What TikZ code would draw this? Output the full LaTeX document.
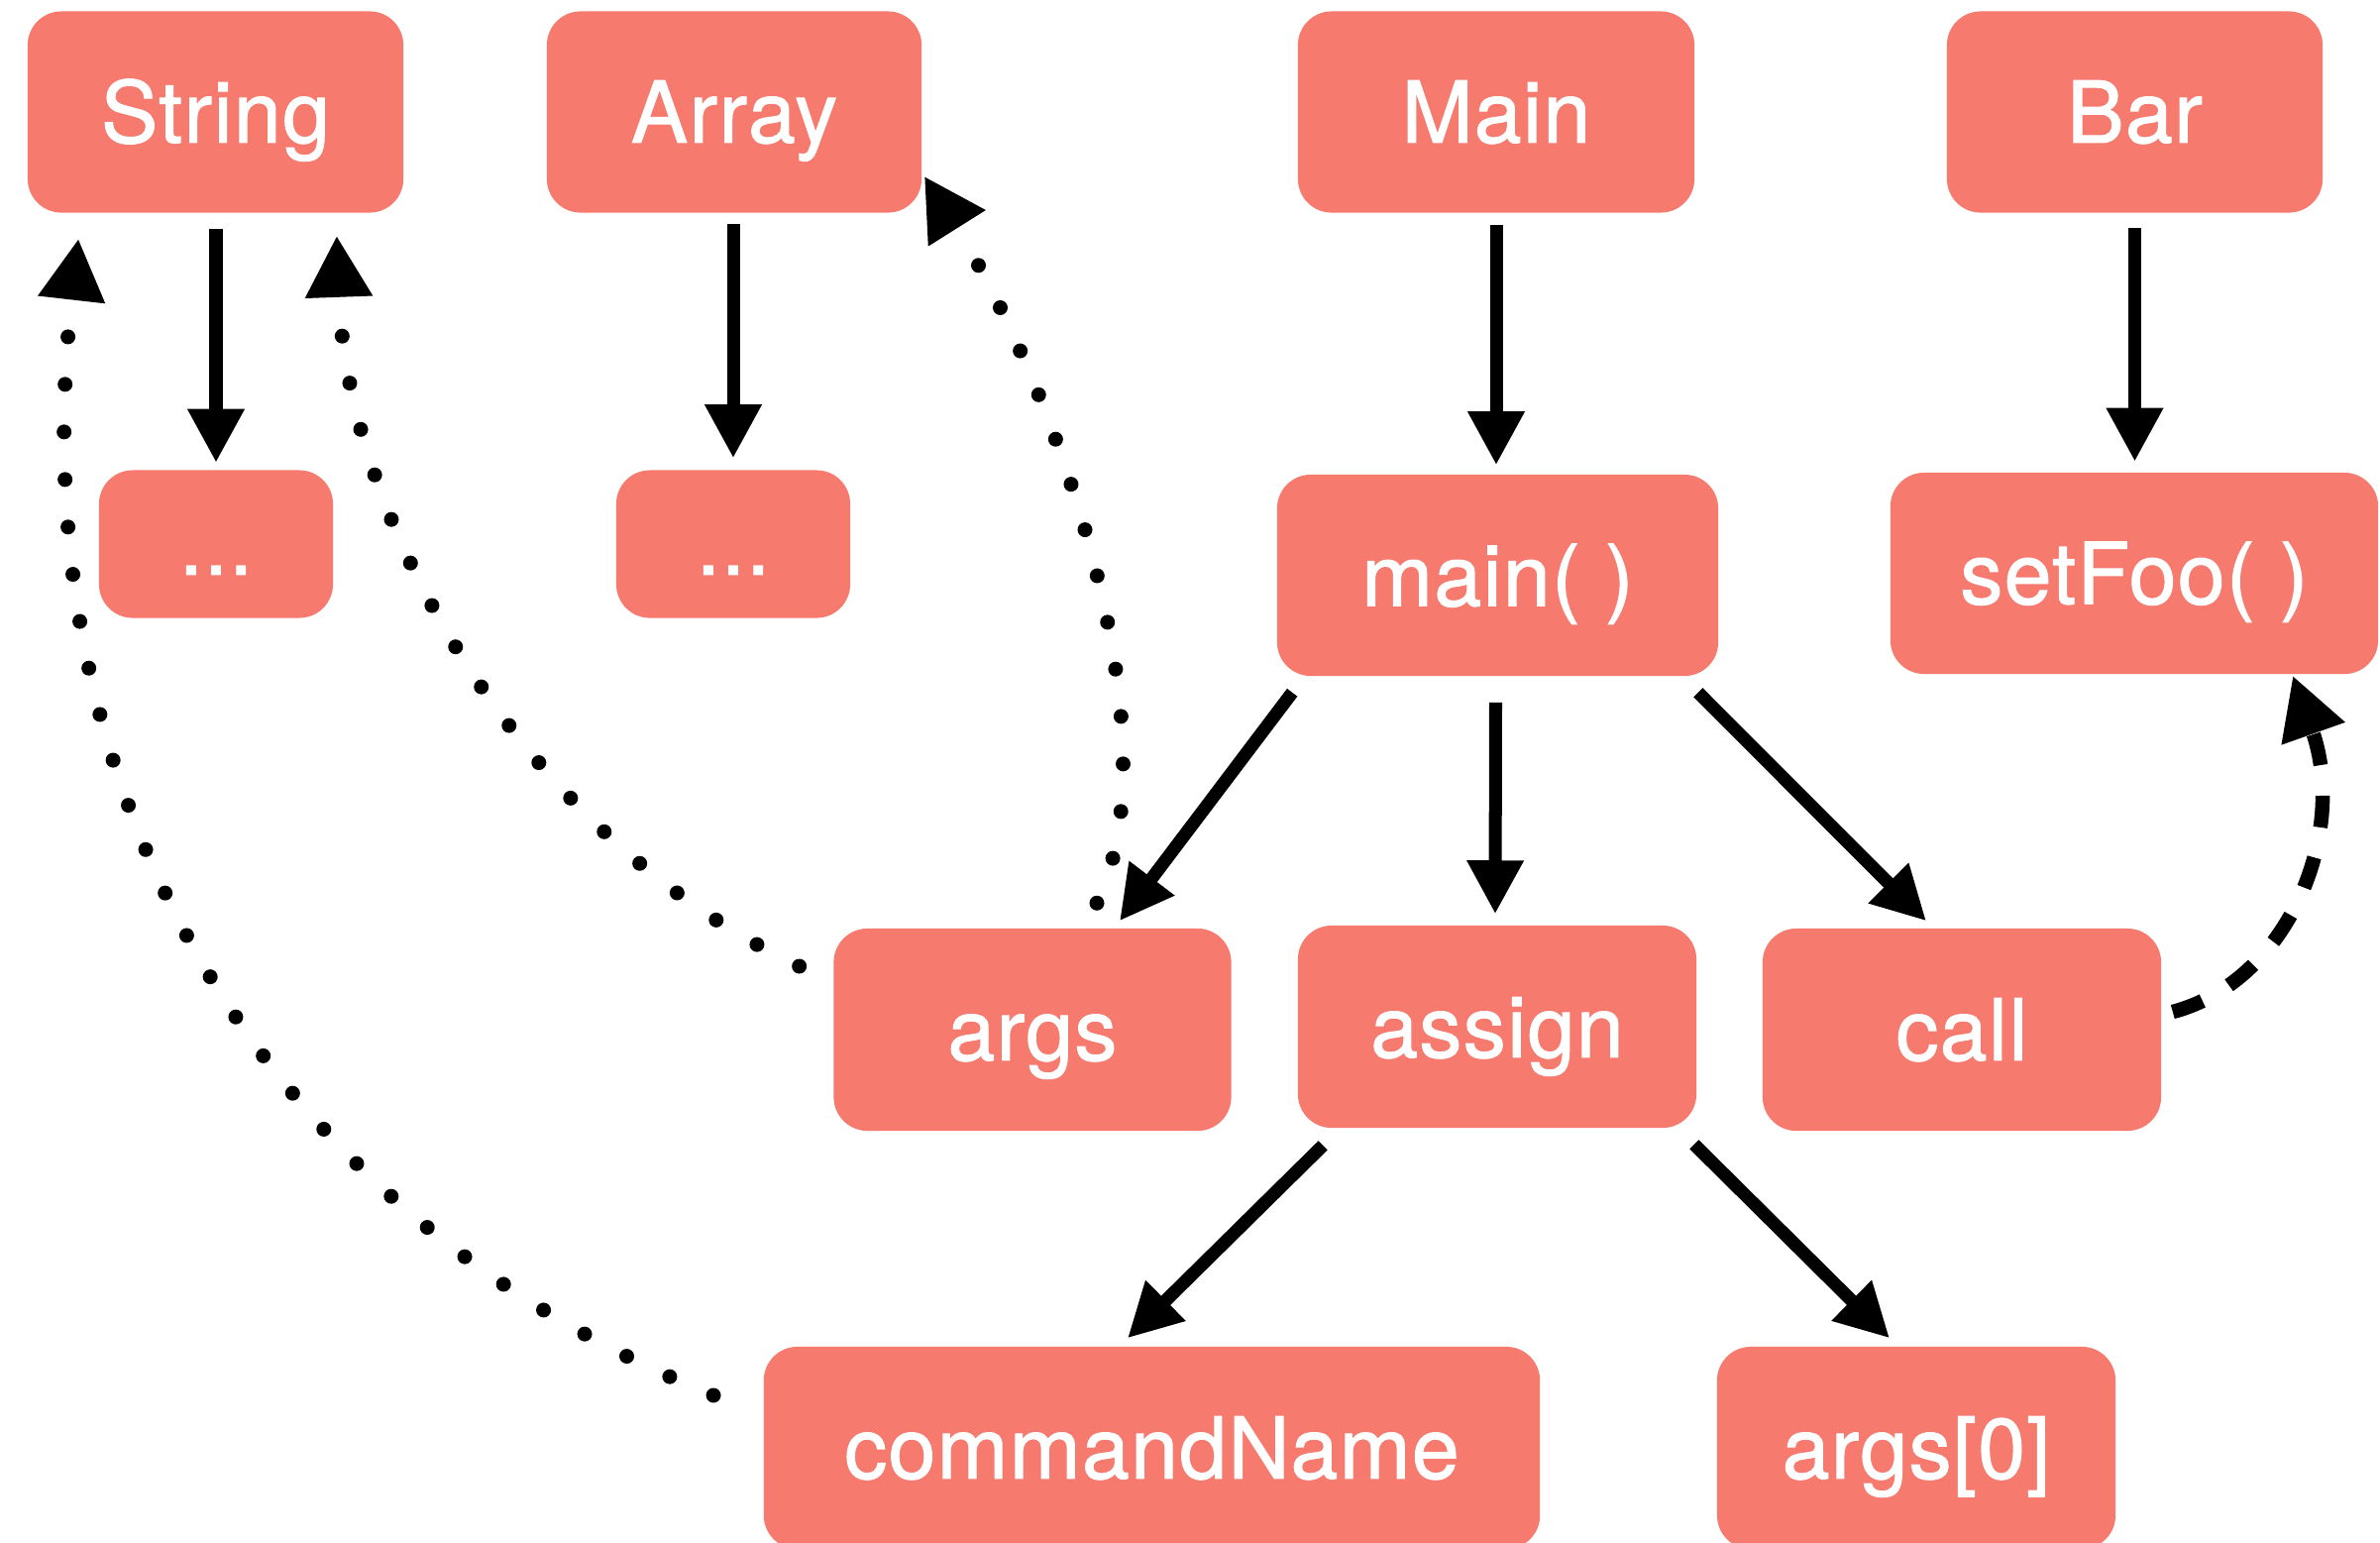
\documentclass[tikz,border=0pt]{standalone}
\usepackage{fontspec}
\newfontfamily\boxfont{TeX Gyre Heros}[FakeBold=1.2, LetterSpace=1.5]
\usetikzlibrary{arrows.meta}
\definecolor{salmon}{RGB}{246,122,110}
\tikzset{
  box/.style={rectangle, rounded corners=0.34cm, fill=salmon, text=white,
    font=\boxfont\fontsize{24.5pt}{29pt}\selectfont, inner sep=0pt,
    text height=17.6pt, text depth=0pt},
  solidarr/.style={line width=0.13cm, -{Triangle[length=0.54cm,width=0.54cm]}},
  dotarr/.style={line width=0.15cm, line cap=round, dash pattern=on 0pt off 0.48cm,
    -{Triangle[length=0.62cm,width=0.64cm]}},
  dasharr/.style={line width=0.145cm, dash pattern=on 0.32cm off 0.31cm,
    -{Triangle[length=0.62cm,width=0.64cm]}},
}
\begin{document}
\begin{tikzpicture}[x=0.01cm, y=-0.01cm]
\path[use as bounding box, fill=white] (0,0) rectangle (2402,1556);
\clip (0,0) rectangle (2402,1556);

% top row: classes
\node[box, minimum width=3.79cm, minimum height=2.03cm] (str)   at (217.5,113) {String};
\node[box, minimum width=3.78cm, minimum height=2.03cm] (arr)   at (741,113)   {Array};
\node[box, minimum width=4.00cm, minimum height=2.03cm] (mainc) at (1510,113)  {Main};
\node[box, minimum width=3.79cm, minimum height=2.03cm] (bar)   at (2154.5,113){Bar};

% second row: members
\node[box, minimum width=2.36cm, minimum height=1.49cm] (dotsa) at (218,549)   {...};
\node[box, minimum width=2.36cm, minimum height=1.49cm] (dotsb) at (740,549)   {...};
\node[box, minimum width=4.45cm, minimum height=2.03cm] (mainf) at (1511.5,580.5) {main( )};
\node[box, minimum width=4.92cm, minimum height=2.03cm] (setfoo) at (2154,578.5) {setFoo( )};

% third row: body of main()
\node[box, minimum width=4.01cm, minimum height=2.04cm] (args)   at (1042,1039) {args};
\node[box, minimum width=4.02cm, minimum height=2.04cm] (assign) at (1511,1036) {assign};
\node[box, minimum width=4.02cm, minimum height=2.04cm] (call)   at (1980,1039) {call};

% bottom row: parts of the assignment
\node[box, minimum width=7.83cm, minimum height=2.04cm] (cmd)   at (1162.5,1461) {commandName};
\node[box, minimum width=4.02cm, minimum height=2.04cm] (argsz) at (1934,1461)   {args[0]};

% containment
\draw[solidarr] ([shift={(0.5,16)}]str.south) -- ([shift={(0,-7)}]dotsa.north);
\draw[solidarr] ([shift={(-1,11)}]arr.south) -- ([shift={(0,-11.5)}]dotsb.north);
\draw[solidarr] ([shift={(0,12)}]mainc.south) -- ([shift={(-1.5,-9)}]mainf.north);
\draw[solidarr] ([shift={(0,15)}]bar.south) -- ([shift={(0.5,-10.5)}]setfoo.north);
\draw[solidarr] ([shift={(16,16)}]mainf.south west) -- ([shift={(88,-7)}]args.north);
\draw[solidarr] ([shift={(-2,26)}]mainf.south) -- ([shift={(-2,-11)}]assign.north);
\draw[solidarr] ([shift={(-21,16)}]mainf.south east) -- ([shift={(-36,-7)}]call.north);
\draw[solidarr] ([shift={(26,17)}]assign.south west) -- ([shift={(-24.5,-8)}]cmd.north);
\draw[solidarr] ([shift={(-3,16)}]assign.south east) -- ([shift={(-27,-8)}]argsz.north);

% type references
\draw[dotarr] ([shift={(-50,-53)}]cmd.west) .. controls (230,1210) and (20,760) .. ([shift={(52,25.5)}]str.south west);
\draw[dotarr] ([shift={(-34,-64)}]args.west) .. controls (520,840) and (350,520) .. ([shift={(-68,22.5)}]str.south east);
\draw[dotarr] ([shift={(65,-25)}]args.north) .. controls (1190,740) and (1060,380) .. ([shift={(2,-37.5)}]arr.south east);

% call target
\draw[dasharr] ([shift={(11,-18)}]call.east) .. controls (2310,990) and (2370,840) .. ([shift={(160,1)}]setfoo.south);
\end{tikzpicture}
\end{document}
